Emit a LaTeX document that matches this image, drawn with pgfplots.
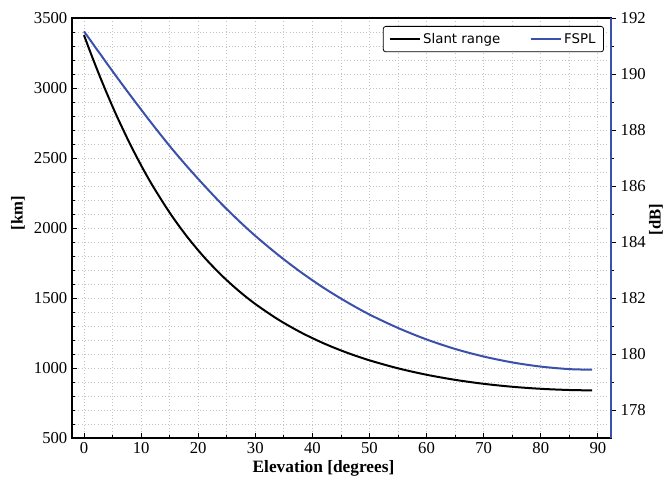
\documentclass[border=0pt]{standalone}
\usepackage{fontspec}
\setmainfont{Liberation Serif}
\newfontfamily\legfont{DejaVu Sans}
\usepackage{pgfplots}
\pgfplotsset{compat=1.18}
\definecolor{fsplblue}{RGB}{58,80,170}
\definecolor{gridgray}{RGB}{195,195,195}
\pgfplotstableread{
e d
0 3377.7
1 3268.3
2 3162.7
3 3060.7
4 2962.4
5 2867.8
6 2776.8
8 2605.5
10 2448.0
12 2303.5
15 2109.8
18 1940.8
21 1793.8
24 1665.9
27 1554.5
30 1457.4
34 1346.7
38 1253.9
42 1175.9
46 1110.2
50 1054.8
55 997.7
60 951.8
65 915.4
70 887.1
75 866.0
80 851.4
85 842.8
89 840.1
}\slant
\pgfplotstableread{
e f
0 191.52
1 191.24
2 190.95
3 190.67
4 190.38
5 190.10
6 189.82
8 189.27
10 188.73
12 188.20
15 187.43
18 186.71
21 186.03
24 185.38
27 184.78
30 184.22
34 183.54
38 182.92
42 182.36
46 181.86
50 181.41
55 180.93
60 180.52
65 180.18
70 179.91
75 179.70
80 179.55
85 179.46
89 179.44
}\fspl
\begin{document}
\begin{tikzpicture}
\path[use as bounding box] (-54pt,-33.75pt) rectangle (444.75pt,328.5pt);
\pgfplotsset{every axis/.append style={font=\fontsize{12.5}{14}\selectfont},
  /pgf/number format/assume math mode=true}
\begin{axis}[
  scale only axis, width=404.25pt, height=315pt,
  at={(0,0)}, anchor=south west,
  xmin=-2.1, xmax=92.3, ymin=500, ymax=3500,
  xtick={0,10,...,90}, minor x tick num=1,
  ytick={500,1000,...,3500}, minor y tick num=4,
  xtick pos=bottom, ytick pos=left,
  tick align=inside,
  major tick length=3.75pt, minor tick length=2.2pt,
  every tick/.style={black, line width=0.6pt},
  axis line style={line width=0.8pt},
  grid=both,
  major grid style={gridgray, dotted, line width=0.6pt},
  minor grid style={gridgray, dotted, line width=0.6pt},
  scaled y ticks=false,
  yticklabel style={/pgf/number format/1000 sep={}},
  xlabel={\fontsize{13}{15}\selectfont\textbf{Elevation [degrees]}},
  ylabel={\textbf{[km]}},
  xlabel style={yshift=2pt, xshift=-13.5pt},
  ylabel style={xshift=11pt},
  legend columns=2,
  legend style={at={(0.987,0.981)}, anchor=north east, draw=black, rounded corners=2pt,
    line width=0.6pt, font=\legfont\fontsize{10}{12}\selectfont,
    inner ysep=3pt, inner xsep=4pt,
    /tikz/every even column/.append style={column sep=20pt}},
  legend image code/.code={\draw[#1] (0cm,0cm) -- (22.5pt,0cm);},
]
\addplot[black, line width=1.5pt, smooth] table[x=e, y=d] {\slant};
\addlegendentry{Slant range}
\addlegendimage{fsplblue, line width=1.5pt}
\addlegendentry{FSPL}
\end{axis}
\begin{axis}[
  scale only axis, width=404.25pt, height=315pt,
  at={(0,0)}, anchor=south west,
  xmin=-2.1, xmax=92.3, ymin=177, ymax=192,
  axis x line=none, axis y line*=right,
  ytick={178,180,...,192}, minor y tick num=1,
  tick align=outside,
  major tick length=3.75pt, minor tick length=2.2pt,
  every tick/.style={black, line width=0.6pt},
  y axis line style={fsplblue, line width=0.9pt, -},
  ylabel={\textbf{[dB]}},
  every axis y label/.style={at={(axis description cs:1.0835,0.52)}, rotate=90, anchor=center},
]
\addplot[fsplblue, line width=1.5pt, smooth] table[x=e, y=f] {\fspl};
\end{axis}
\end{tikzpicture}
\end{document}
